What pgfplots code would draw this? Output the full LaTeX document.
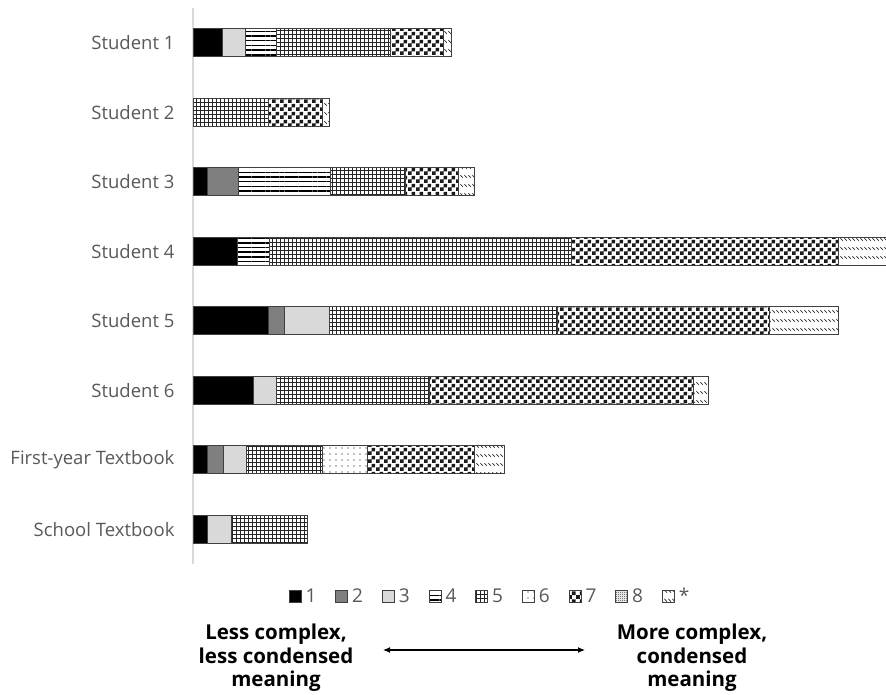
\documentclass[border=0pt]{standalone}
\usepackage{pgfplots}
\pgfplotsset{compat=1.18}
\usepackage{fontspec}
\setmainfont{Open Sans}
\usetikzlibrary{patterns,patterns.meta,arrows.meta}

\definecolor{axisgray}{HTML}{D9D9D9}
\definecolor{labelgray}{HTML}{595959}
\definecolor{barline}{HTML}{404040}
\definecolor{midgray}{HTML}{7F7F7F}
\definecolor{lightgray3}{HTML}{D9D9D9}

% checkerboard, coarse (7) and fine (8)
\pgfdeclarepatternformonly{checkbig}{\pgfpointorigin}{\pgfqpoint{8pt}{8pt}}{\pgfqpoint{8pt}{8pt}}{%
  \pgfpathrectangle{\pgfpointorigin}{\pgfqpoint{4pt}{4pt}}%
  \pgfpathrectangle{\pgfqpoint{4pt}{4pt}}{\pgfqpoint{4pt}{4pt}}%
  \pgfusepath{fill}}
\pgfdeclarepatternformonly{checksmall}{\pgfpointorigin}{\pgfqpoint{2pt}{2pt}}{\pgfqpoint{2pt}{2pt}}{%
  \pgfpathrectangle{\pgfpointorigin}{\pgfqpoint{1pt}{1pt}}%
  \pgfpathrectangle{\pgfqpoint{1pt}{1pt}}{\pgfqpoint{1pt}{1pt}}%
  \pgfusepath{fill}}
% square grid (5)
\pgfdeclarepatternformonly{grid4}{\pgfqpoint{-0.5pt}{-0.5pt}}{\pgfqpoint{4.5pt}{4.5pt}}{\pgfqpoint{4pt}{4pt}}{%
  \pgfsetlinewidth{0.9pt}%
  \pgfpathmoveto{\pgfqpoint{-0.5pt}{0pt}}\pgfpathlineto{\pgfqpoint{4.5pt}{0pt}}%
  \pgfpathmoveto{\pgfqpoint{0pt}{-0.5pt}}\pgfpathlineto{\pgfqpoint{0pt}{4.5pt}}%
  \pgfusepath{stroke}}
% short slanted strokes in rows (*)
\pgfdeclarepatternformonly{slashrows}{\pgfqpoint{0pt}{0pt}}{\pgfqpoint{4pt}{9pt}}{\pgfqpoint{4pt}{9pt}}{%
  \pgfsetlinewidth{0.8pt}%
  \pgfpathmoveto{\pgfqpoint{0.5pt}{6.5pt}}\pgfpathlineto{\pgfqpoint{3.5pt}{3.5pt}}%
  \pgfusepath{stroke}}

\begin{document}
\begin{tikzpicture}
\useasboundingbox (0,0) rectangle (886pt,694pt);
\begin{axis}[
  at={(193pt,130pt)}, anchor=south west,
  scale only axis, width=693pt, height=556pt,
  xbar stacked, bar width=28pt,
  xmin=0, xmax=693, ymin=-0.5, ymax=7.5, y dir=reverse,
  axis x line=none, axis y line*=left,
  y axis line style={draw=axisgray, line width=1.3pt, -},
  ytick={0,...,7},
  yticklabels={Student 1,Student 2,Student 3,Student 4,Student 5,Student 6,First-year Textbook,School Textbook},
  major tick length=0pt,
  yticklabel style={font=\fontsize{18.5}{22}\selectfont, text=labelgray, xshift=-15pt},
  every axis plot/.append style={draw=barline, line width=0.9pt},
  legend columns=9,
  legend image code/.code={\draw[#1, line width=0.8pt] (0pt,-6pt) rectangle (12pt,6pt);},
  legend style={draw=none, at={(rel axis cs:0.4286,0)}, anchor=north, yshift=-20pt,
    font=\fontsize{19}{22}\selectfont, text=labelgray,
    /tikz/every odd column/.append style={column sep=2pt},
    /tikz/every even column/.append style={column sep=17pt}},
]
\addplot[fill=black] coordinates {(29,0) (0,1) (14,2) (44,3) (75,4) (60,5) (14,6) (14,7)};
\addlegendentry{1}
\addplot[fill=midgray] coordinates {(0,0) (0,1) (31,2) (0,3) (16,4) (0,5) (16,6) (0,7)};
\addlegendentry{2}
\addplot[fill=lightgray3] coordinates {(23,0) (0,1) (0,2) (0,3) (45,4) (23,5) (23,6) (24,7)};
\addlegendentry{3}
\addplot[pattern={Lines[angle=0,distance=4.7pt,line width=1.5pt]}, pattern color=black] coordinates {(31,0) (0,1) (92,2) (32,3) (0,4) (0,5) (0,6) (0,7)};
\addlegendentry{4}
\addplot[pattern=grid4, pattern color=black!85] coordinates {(114,0) (75,1) (75,2) (302,3) (228,4) (153,5) (76,6) (76,7)};
\addlegendentry{5}
\addplot[pattern={Dots[distance=6pt,radius=0.7pt]}, pattern color=black] coordinates {(0,0) (0,1) (0,2) (0,3) (0,4) (0,5) (45,6) (0,7)};
\addlegendentry{6}
\addplot[pattern=checkbig, pattern color=black!90] coordinates {(53,0) (54,1) (53,2) (267,3) (212,4) (264,5) (107,6) (0,7)};
\addlegendentry{7}
\addplot[pattern=checksmall, pattern color=black!80] coordinates {(0,0) (0,1) (0,2) (0,3) (0,4) (0,5) (0,6) (0,7)};
\addlegendentry{8}
\addplot[pattern=slashrows, pattern color=black!85] coordinates {(8,0) (7,1) (16,2) (60,3) (69,4) (15,5) (30,6) (0,7)};
\addlegendentry{*}
\end{axis}
\node[align=center, font=\bfseries\fontsize{20.5}{23.5}\selectfont] at (276pt,36pt) {Less complex,\\less condensed\\meaning};
\node[align=center, font=\bfseries\fontsize{20.5}{23.5}\selectfont] at (692pt,36pt) {More complex,\\condensed\\meaning};
\draw[{Latex[length=7pt,width=6pt]}-{Latex[length=7pt,width=6pt]}, line width=1.2pt] (383pt,44pt) -- (585pt,44pt);
\end{tikzpicture}
\end{document}
